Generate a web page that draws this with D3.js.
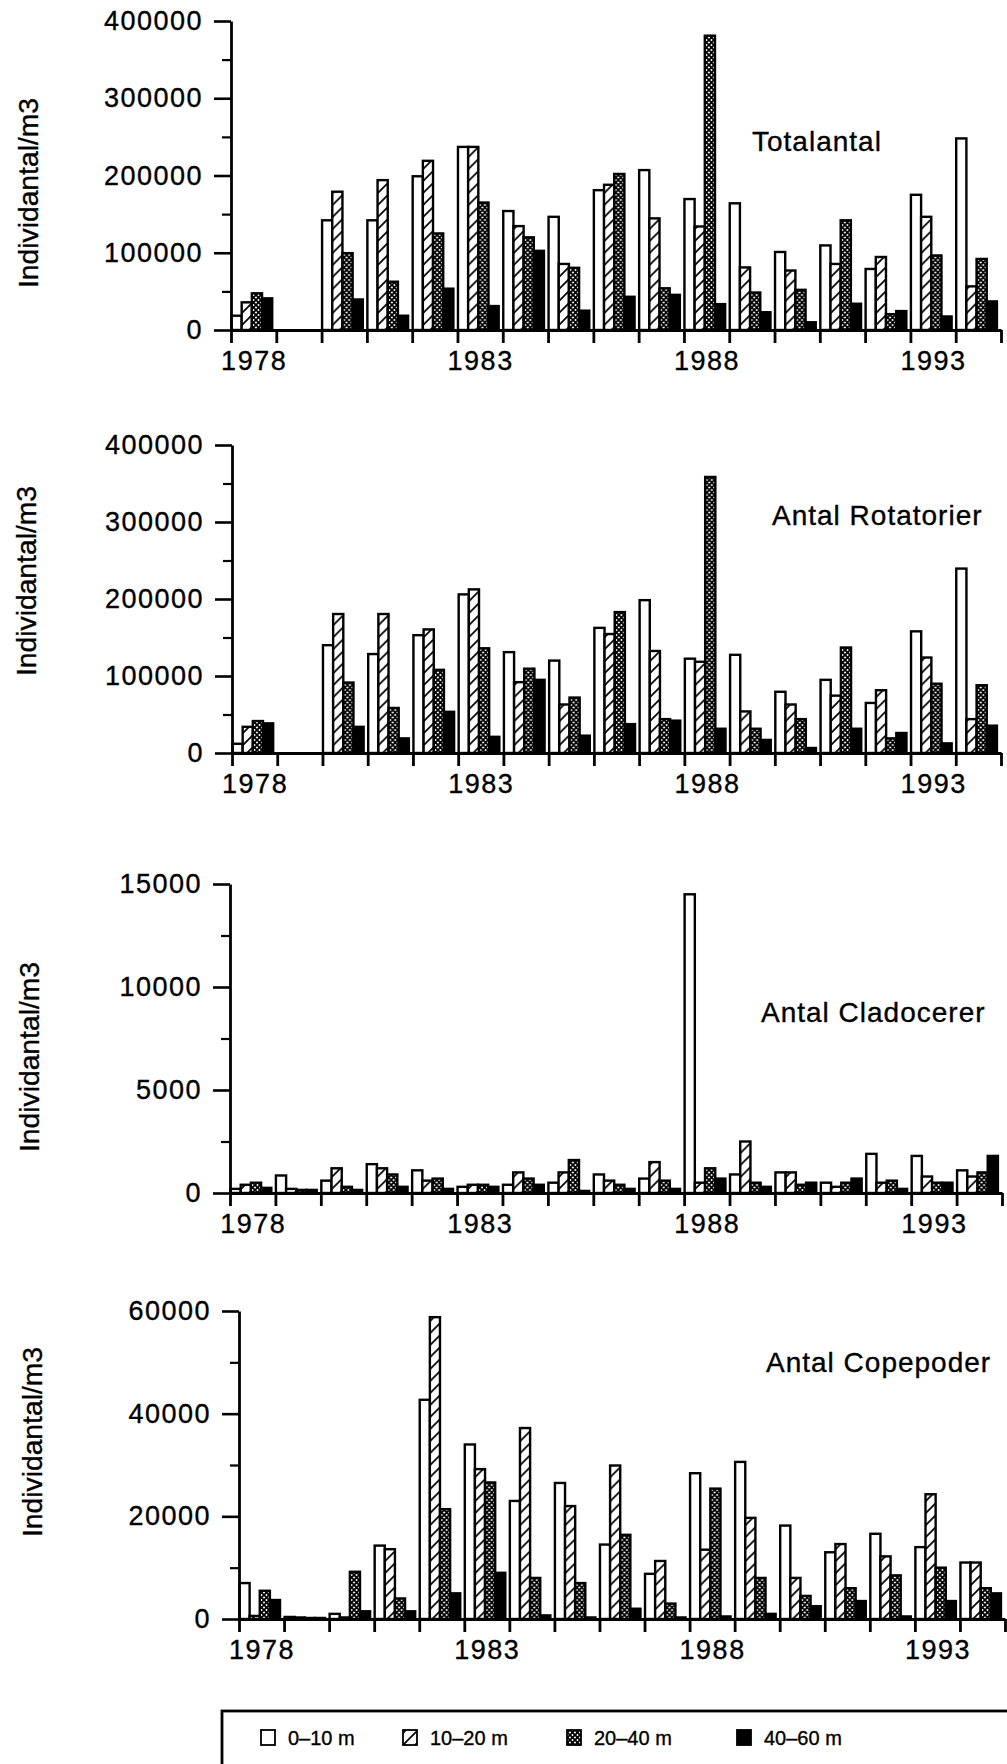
<!DOCTYPE html>
<html><head><meta charset="utf-8">
<script src="https://cdn.jsdelivr.net/npm/d3@7"></script>
<style>
body{margin:0;background:#fff;}
svg text{font-family:"Liberation Sans", Arial, Helvetica, sans-serif;fill:#000;stroke:#000;stroke-width:0.35px;}
</style></head><body>
<svg id="chart" width="1007" height="1764"></svg>
<script>
// ---------- DATA ----------
const years = [1978,1979,1980,1981,1982,1983,1984,1985,1986,1987,1988,1989,1990,1991,1992,1993,1994];
const depths = ["0–10 m","10–20 m","20–40 m","40–60 m"];
const yearLabels = [1978,1983,1988,1993];
const titles = ["Totalantal","Antal Rotatorier","Antal Cladocerer","Antal Copepoder"];
const yLabel = "Individantal/m3";

// values per year: [0-10 m, 10-20 m, 20-40 m, 40-60 m]
const totalantal = [
  [18500,35800,47500,41000],[0,0,0,0],[142000,179000,99500,39500],[142000,194000,62500,18500],
  [199000,219000,125000,53500],[237000,237000,165000,31000],[154000,134500,120000,102500],
  [146500,85500,80500,25000],[181000,188000,202000,43000],[207000,144500,54000,45500],
  [169500,134000,381000,33500],[164000,81000,48500,23000],[101000,77000,52000,10000],
  [109500,85500,142000,34000],[79000,94500,20500,24500],[175000,146500,96500,17500],
  [248000,56500,92000,37000]
];
const rotatorier = [
  [12000,34000,41500,38500],[0,0,0,0],[140000,180500,91500,34000],[128500,180500,58500,19000],
  [153000,160500,108000,53500],[206000,212500,136000,21000],[131000,92000,109500,95000],
  [120000,63000,72000,22500],[162500,154500,183000,37500],[198500,132500,44000,42000],
  [122500,118500,358500,31500],[127500,54000,31500,17000],[79500,63000,44000,6500],
  [95000,74500,137000,31500],[65000,81500,19000,26000],[158000,124000,90000,12500],
  [239500,44000,88000,35500]
];
const cladocerer = [
  [200,400,500,250],[850,200,150,150],[600,1200,300,150],[1400,1200,900,300],
  [1100,600,700,200],[300,400,400,300],[400,1000,700,400],[500,1000,1600,100],
  [900,600,400,200],[700,1500,600,200],[14500,500,1200,700],[900,2500,500,300],
  [1000,1000,400,500],[500,300,500,700],[1900,500,600,200],[1800,800,500,500],
  [1100,800,1000,1800]
];
const copepoder = [
  [7000,600,5500,3700],[400,300,200,200],[1000,300,9200,1500],[14300,13600,4000,1500],
  [42700,58800,21400,5000],[34000,29200,26600,9000],[23000,37200,8000,700],[26500,22000,7000,300],
  [14500,29900,16400,2000],[8800,11300,3000,300],[28400,13500,25400,500],[30600,19700,8000,1000],
  [18200,8000,4500,2500],[13000,14600,6000,3500],[16600,12200,8500,500],[14000,24300,10000,3500],
  [11000,11000,6000,5000]
];
const series = [totalantal, rotatorier, cladocerer, copepoder];
const yMax = [400000,400000,15000,60000];
const yMajor = [[0,100000,200000,300000,400000],[0,100000,200000,300000,400000],[0,5000,10000,15000],[0,20000,40000,60000]];
const yMinor = [[50000,150000,250000,350000],[50000,150000,250000,350000],[2500,7500,12500],[10000,30000,50000]];

// ---------- LAYOUT ----------
const layout = [
  {x0:231,x1:1001,y0:330,y1:21,tx:752,ty:151,lx:38,ly:193},
  {x0:232,x1:1001,y0:753,y1:445,tx:772,ty:525,lx:36,ly:581},
  {x0:230,x1:1002,y0:1193,y1:884,tx:761,ty:1022,lx:39,ly:1057},
  {x0:239,x1:1005,y0:1619,y1:1311,tx:766,ty:1372,lx:42,ly:1442}
];
const legendX = [261,403,567,737];
const fills = ["#fff","url(#hatch)","url(#cross)","#000"];

const svg = d3.select("#chart");
const defs = svg.append("defs");
const h = defs.append("pattern").attr("id","hatch").attr("patternUnits","userSpaceOnUse").attr("width",12).attr("height",12);
h.append("rect").attr("width",12).attr("height",12).attr("fill","#fff");
h.append("path").attr("d","M-1,13 L13,-1 M-4,4 L4,-4 M8,16 L16,8").attr("stroke","#000").attr("stroke-width",1.7);
const c = defs.append("pattern").attr("id","cross").attr("patternUnits","userSpaceOnUse").attr("width",5).attr("height",5);
c.append("rect").attr("width",5).attr("height",5).attr("fill","#fff");
c.append("path").attr("d","M0,0 L5,5 M5,0 L0,5").attr("stroke","#000").attr("stroke-width",1.8);

const boundaries = years.concat([years[years.length-1]+1]);

series.forEach((data, p) => {
  const L = layout[p];
  const g = svg.append("g");
  const x = d3.scaleLinear().domain([years[0], boundaries[boundaries.length-1]]).range([L.x0, L.x1]);
  const y = d3.scaleLinear().domain([0, yMax[p]]).range([L.y0, L.y1]);
  const yw = x(years[0]+1) - x(years[0]);
  const band = d3.scaleBand().domain(depths).range([0.5, yw*0.91]).padding(0);

  // bars
  const groups = g.selectAll("g.yr").data(years.map((yr,i)=>({yr, vals:data[i]})))
    .join("g").attr("class","yr").attr("transform", d => `translate(${x(d.yr)},0)`);
  groups.selectAll("rect").data(d => d.vals.map((v,k)=>({v, k})))
    .join("rect")
    .attr("x", d => band(depths[d.k]))
    .attr("width", band.bandwidth())
    .attr("y", d => y(d.v))
    .attr("height", d => y(0) - y(d.v))
    .attr("fill", d => fills[d.k])
    .attr("stroke", "#000").attr("stroke-width", 2.4);

  // y axis
  const ya = g.append("g").attr("transform", `translate(${L.x0},0)`)
    .call(d3.axisLeft(y).tickValues(yMajor[p]).tickSize(17).tickPadding(11).tickSizeOuter(0).tickFormat(d3.format("d")));
  ya.select(".domain").attr("stroke-width", 2.8);
  ya.selectAll(".tick line").attr("stroke-width", 2.6);
  ya.selectAll("text").attr("font-size", 27).attr("font-family", "Liberation Sans, Arial, sans-serif").attr("letter-spacing", "1.5px");
  const ym = g.append("g").attr("transform", `translate(${L.x0},0)`)
    .call(d3.axisLeft(y).tickValues(yMinor[p]).tickSize(9).tickFormat(""));
  ym.select(".domain").remove();
  ym.selectAll(".tick line").attr("stroke-width", 2.2);

  // x axis
  const xa = g.append("g").attr("transform", `translate(0,${L.y0})`)
    .call(d3.axisBottom(x).tickValues(boundaries).tickSize(13).tickSizeOuter(0).tickFormat(""));
  xa.select(".domain").attr("stroke-width", 3.2);
  xa.selectAll(".tick line").attr("stroke-width", 2.8);
  const xl = g.append("g").attr("transform", `translate(0,${L.y0})`)
    .call(d3.axisBottom(x).tickValues(yearLabels.map(v => v + 0.5)).tickSize(0).tickPadding(21).tickFormat(d => Math.floor(d)));
  xl.select(".domain").remove();
  xl.selectAll("text").attr("font-size", 27).attr("font-family", "Liberation Sans, Arial, sans-serif").attr("letter-spacing", "1.5px");

  // title
  g.append("text").attr("x", L.tx).attr("y", L.ty).attr("font-size", 28).attr("letter-spacing", "1px").text(titles[p]);
  // y label
  g.append("text").attr("transform", `translate(${L.lx},${L.ly}) rotate(-90)`)
    .attr("text-anchor", "middle").attr("font-size", 28)
    .attr("textLength", 190).attr("lengthAdjust", "spacingAndGlyphs").text(yLabel);
});

// legend
const lg = svg.append("g");
lg.append("rect").attr("x", 222).attr("y", 1711).attr("width", 800).attr("height", 80)
  .attr("fill", "none").attr("stroke", "#000").attr("stroke-width", 2.8);
depths.forEach((d, k) => {
  lg.append("rect").attr("x", legendX[k]).attr("y", 1730).attr("width", 14).attr("height", 15)
    .attr("fill", fills[k]).attr("stroke", "#000").attr("stroke-width", 1.8);
  lg.append("text").attr("x", legendX[k] + 27).attr("y", 1745).attr("font-size", 20).text(d);
});
</script>
</body></html>
